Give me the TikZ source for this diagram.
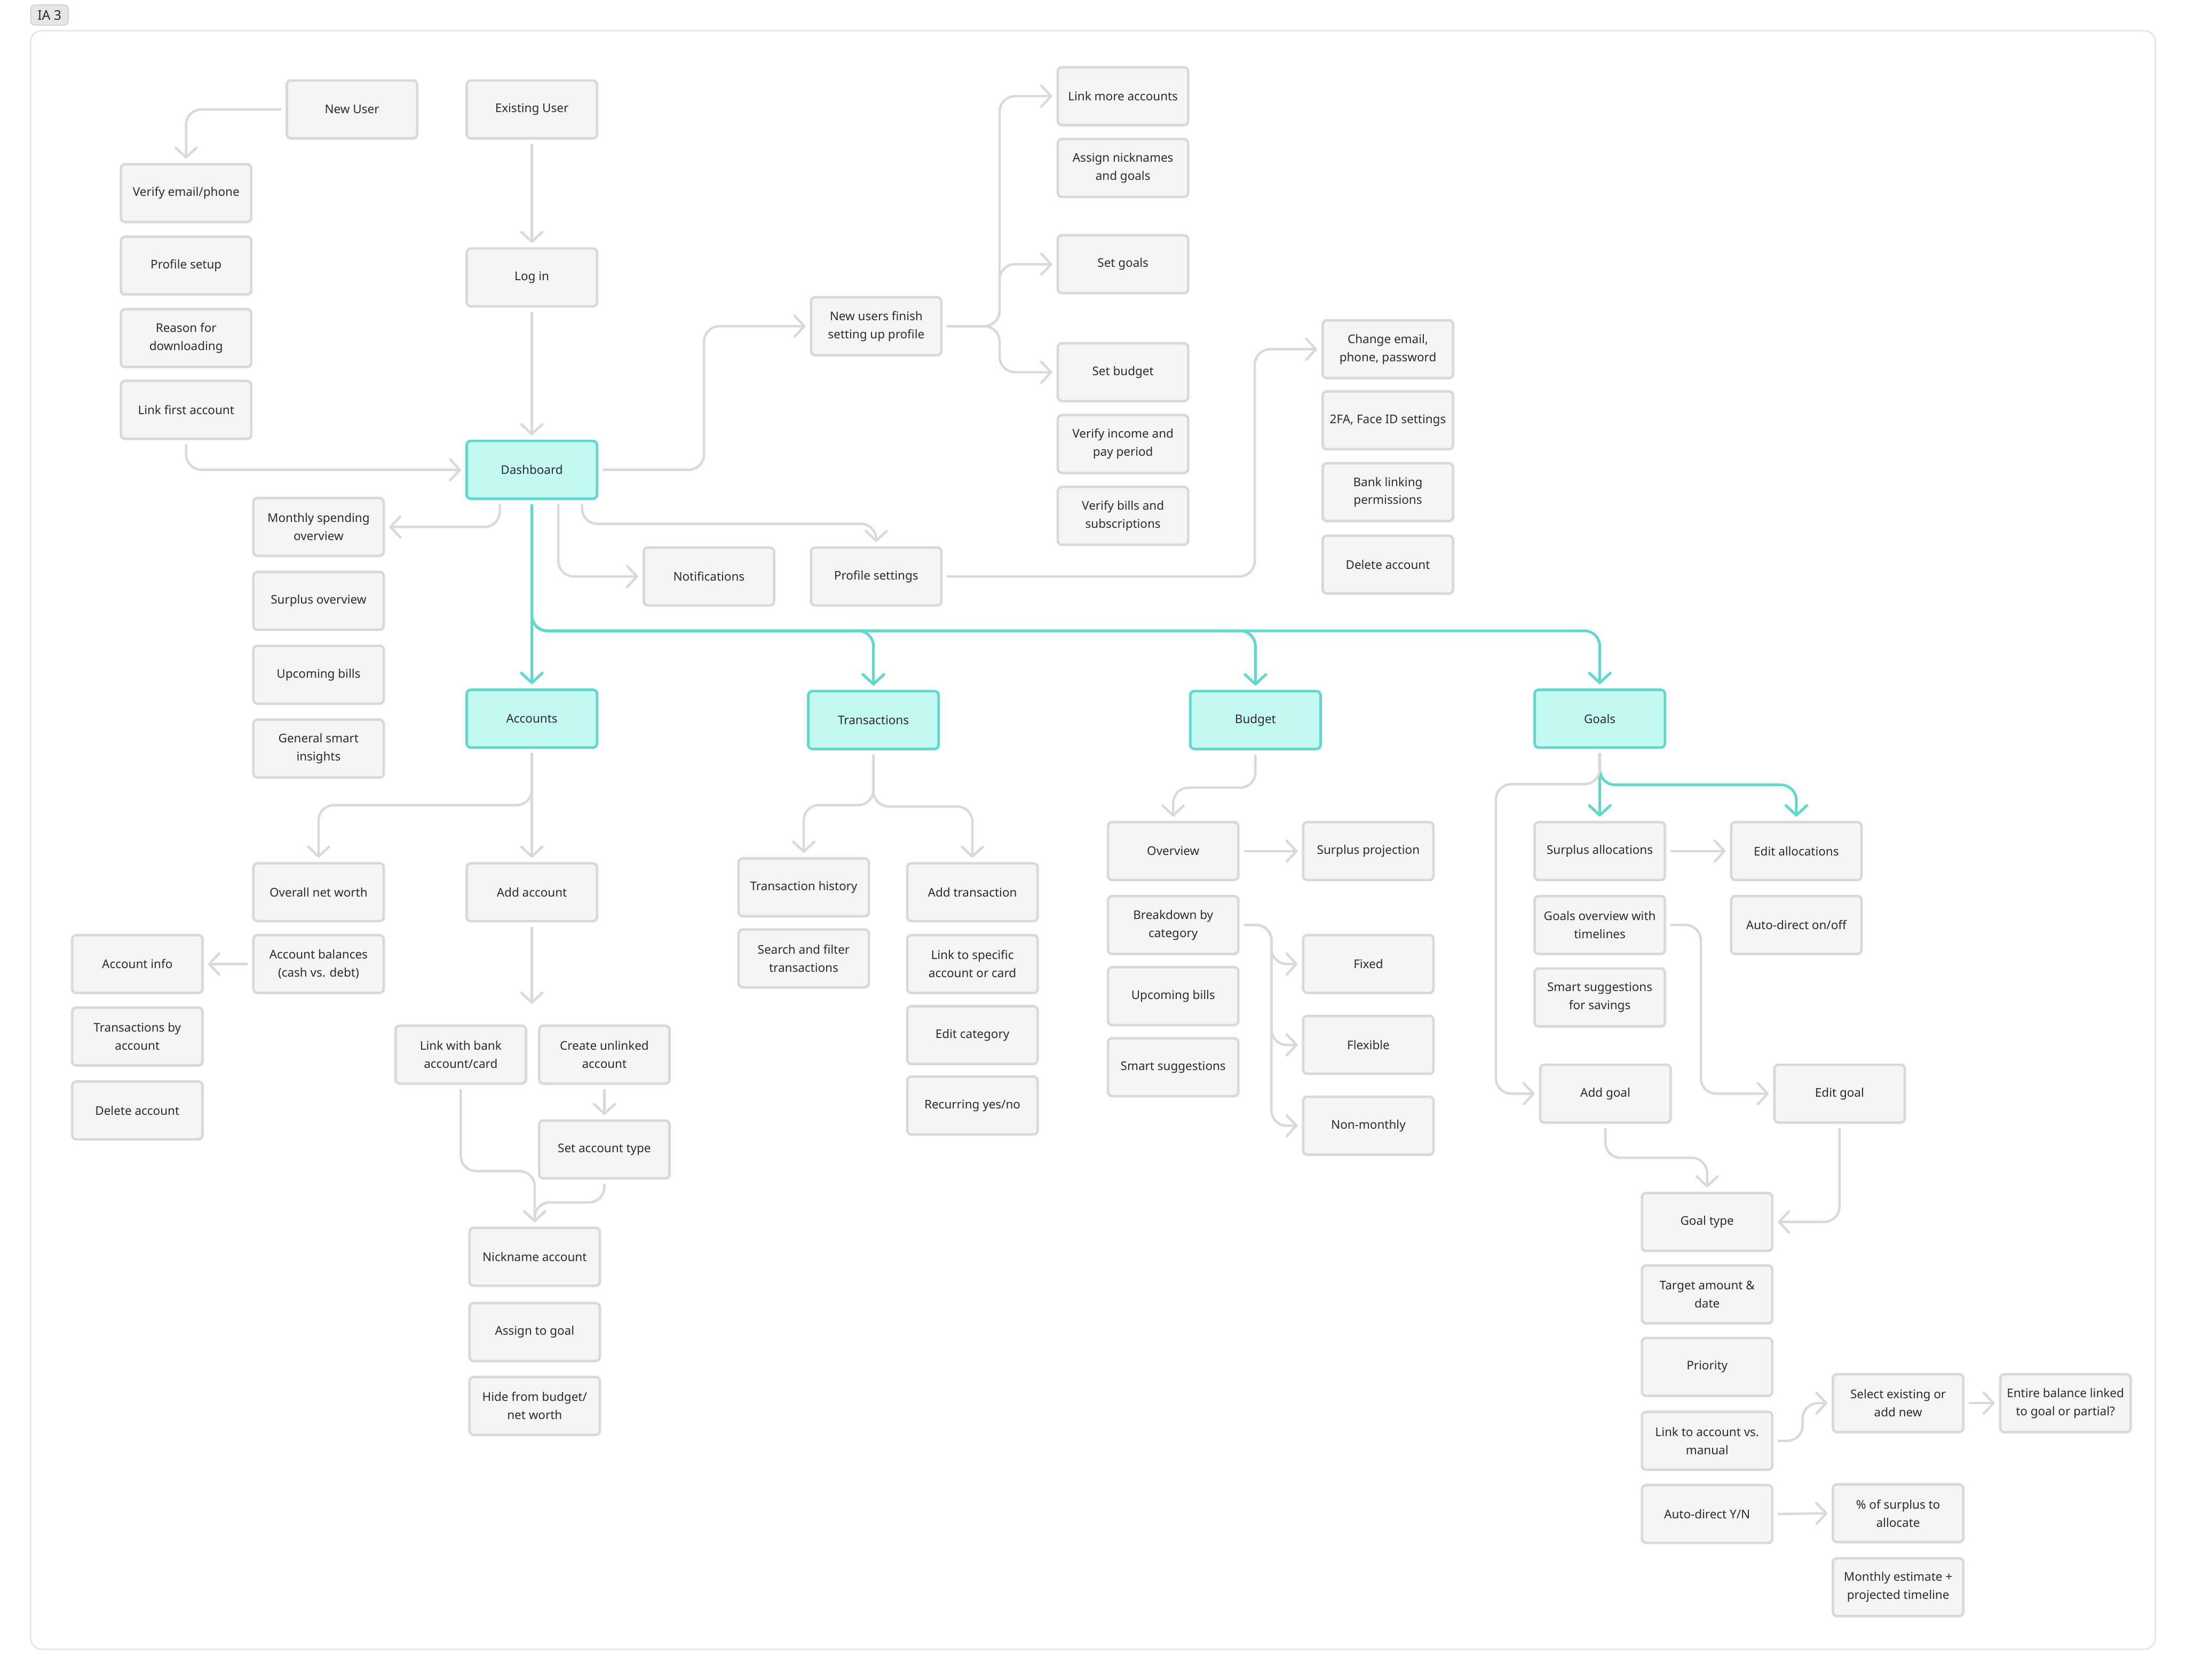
\documentclass[tikz,border=0pt]{standalone}
\usepackage{fontspec}
\setmainfont{Noto Sans}
\usetikzlibrary{arrows.meta,calc}
\definecolor{boxfill}{HTML}{F5F5F5}
\definecolor{boxline}{HTML}{D9D9D9}
\definecolor{tealfill}{HTML}{C4F8F2}
\definecolor{tealline}{HTML}{5ED9CC}
\definecolor{txt}{HTML}{2B2B2B}
\definecolor{conncol}{HTML}{D9D9D9}
\definecolor{framecol}{HTML}{E3E3E3}
\definecolor{tagfill}{HTML}{E6E6E6}
\definecolor{tagline}{HTML}{CFCFCF}
\begin{document}
\begin{tikzpicture}[x=1pt,y=-1pt,
  box/.style={draw=boxline, fill=boxfill, line width=1.8pt, rounded corners=3pt,
     minimum width=93.5pt, minimum height=41.5pt, inner sep=0pt, align=center,
     font=\fontsize{8.6}{13}\selectfont, text=txt, outer sep=4pt},
  tbox/.style={box, draw=tealline, fill=tealfill},
  link/.style={draw=conncol, line width=1.7pt, rounded corners=11pt,
     -{Straight Barb[length=7pt,width=15pt,round]}},
  tlink/.style={link, draw=tealline, line width=1.9pt},
]
\useasboundingbox (0,0) rectangle (1568,1205);
% frame and tag
\draw[draw=framecol, line width=0.9pt, rounded corners=8pt] (22,22) rectangle (1546,1183);
\node[draw=tagline, fill=tagfill, line width=0.6pt, rounded corners=3pt,
      minimum width=27pt, minimum height=14.5pt, inner sep=0pt,
      font=\fontsize{9.5}{11}\selectfont, text=txt] (tag) at (35.5,10.8) {IA 3};

% ---- nodes ----
\node[box] (nu) at (252.5,78.5) {New User};
\node[box] (eu) at (381.5,78.5) {Existing User};
\node[box] (vep) at (133.5,138.5) {Verify email/phone};
\node[box] (pse) at (133.5,190.5) {Profile setup};
\node[box] (rfd) at (133.5,242.5) {Reason for\\downloading};
\node[box] (lfa) at (133.5,294) {Link first account};
\node[box] (login) at (381.5,199) {Log in};
\node[tbox] (dash) at (381.5,337) {Dashboard};
\node[box] (nuf) at (628.5,234) {New users finish\\setting up profile};
\node[box] (lma) at (805.5,69) {Link more accounts};
\node[box] (ang) at (805.5,120.5) {Assign nicknames\\and goals};
\node[box] (sgo) at (805.5,189.5) {Set goals};
\node[box] (sbu) at (805.5,267) {Set budget};
\node[box] (vip) at (805.5,318.5) {Verify income and\\pay period};
\node[box] (vbs) at (805.5,370) {Verify bills and\\subscriptions};
\node[box] (cep) at (995.5,250.5) {Change email,\\phone, password};
\node[box] (tfa) at (995.5,301.5) {2FA, Face ID settings};
\node[box] (blp) at (995.5,353) {Bank linking\\permissions};
\node[box] (dac) at (995.5,405) {Delete account};
\node[box] (msp) at (228.5,378) {Monthly spending\\overview};
\node[box] (sov) at (228.5,431) {Surplus overview};
\node[box] (upb) at (228.5,484) {Upcoming bills};
\node[box] (gsi) at (228.5,537) {General smart\\insights};
\node[box] (notif) at (508.5,413.5) {Notifications};
\node[box] (ps) at (628.5,413.5) {Profile settings};
\node[tbox] (acc) at (381.5,515.5) {Accounts};
\node[tbox] (tr) at (626.5,516.5) {Transactions};
\node[tbox] (bud) at (900.5,516.5) {Budget};
\node[tbox] (goals) at (1147.5,515.5) {Goals};
% accounts
\node[box] (onw) at (228.5,640) {Overall net worth};
\node[box] (abal) at (228.5,691.5) {Account balances\\(cash vs. debt)};
\node[box] (ainfo) at (98.5,691.5) {Account info};
\node[box] (tba) at (98.5,743.5) {Transactions by\\account};
\node[box] (dac2) at (98.5,796.5) {Delete account};
\node[box] (addacc) at (381.5,640) {Add account};
\node[box] (lwb) at (330.5,756.5) {Link with bank\\account/card};
\node[box] (cua) at (433.5,756.5) {Create unlinked\\account};
\node[box] (sat) at (433.5,824.5) {Set account type};
\node[box] (nick) at (383.5,901.5) {Nickname account};
\node[box] (atg) at (383.5,955.5) {Assign to goal};
\node[box] (hfb) at (383.5,1008.5) {Hide from budget/\\net worth};
% transactions
\node[box] (th) at (576.5,636.5) {Transaction history};
\node[box] (sft) at (576.5,687.5) {Search and filter\\transactions};
\node[box] (at) at (697.5,640) {Add transaction};
\node[box] (lsa) at (697.5,691.5) {Link to specific\\account or card};
\node[box] (ec) at (697.5,742.5) {Edit category};
\node[box] (ryn) at (697.5,793) {Recurring yes/no};
% budget
\node[box] (ov) at (841.5,610.5) {Overview};
\node[box] (sp) at (981.5,610.5) {Surplus projection};
\node[box] (bbc) at (841.5,663.5) {Breakdown by\\category};
\node[box] (upb2) at (841.5,714.5) {Upcoming bills};
\node[box] (ss) at (841.5,765.5) {Smart suggestions};
\node[box] (fixed) at (981.5,691.5) {Fixed};
\node[box] (flex) at (981.5,749.5) {Flexible};
\node[box] (nonm) at (981.5,807.5) {Non-monthly};
% goals
\node[box] (sal) at (1147.5,610.5) {Surplus allocations};
\node[box] (eal) at (1288.5,610.5) {Edit allocations};
\node[box] (gov) at (1147.5,663.5) {Goals overview with\\timelines};
\node[box] (adoo) at (1288.5,663.5) {Auto-direct on/off};
\node[box] (sss) at (1147.5,715.5) {Smart suggestions\\for savings};
\node[box] (addg) at (1151.5,784.5) {Add goal};
\node[box] (editg) at (1319.5,784.5) {Edit goal};
\node[box] (gt) at (1224.5,876.5) {Goal type};
\node[box] (tad) at (1224.5,928.5) {Target amount \&\\date};
\node[box] (pri) at (1224.5,980.5) {Priority};
\node[box] (lta) at (1224.5,1033.5) {Link to account vs.\\manual};
\node[box] (adyn) at (1224.5,1086) {Auto-direct Y/N};
\node[box] (sea) at (1361.5,1006.5) {Select existing or\\add new};
\node[box] (ebl) at (1481.5,1006.5) {Entire balance linked\\to goal or partial?};
\node[box] (pct) at (1361.5,1085.5) {\% of surplus to\\allocate};
\node[box] (mep) at (1361.5,1138.5) {Monthly estimate +\\projected timeline};

% ---- connectors ----
\draw[link] (nu.west) -| (vep.north);
\draw[link] (eu.south) -- (login.north);
\draw[link] (login.south) -- (dash.north);
\draw[link] (lfa.south) |- (dash.west);
\draw[link] (dash.east) -- (505,337) |- (nuf.west);
\coordinate (fan) at (717,234);
\draw[link] (nuf.east) -- (fan) |- (lma.west);
\draw[link] (nuf.east) -- (fan) |- (sgo.west);
\draw[link] (nuf.east) -- (fan) |- (sbu.west);
\draw[link] (ps.east) -- (900,413.5) |- (cep.west);
\draw[link] ($(dash.south)+(-23,0)$) |- (msp.east);
\draw[link] ($(dash.south)+(19,0)$) |- (notif.west);
\draw[link] ($(dash.south)+(36,0)$) -- ++(0,14) -| (ps.north);
% teal main branches
\draw[tlink] (dash.south) -- (acc.north);
\draw[tlink] (dash.south) -- (381.5,452.5) -| (tr.north);
\draw[tlink] (dash.south) -- (381.5,452.5) -| (bud.north);
\draw[tlink] (dash.south) -- (381.5,452.5) -| (goals.north);
% accounts
\draw[link] (acc.south) -- (381.5,577.5) -| (onw.north);
\draw[link] (acc.south) -- (addacc.north);
\draw[link] (abal.west) -- (ainfo.east);
\coordinate (addend) at (381.5,720);
\draw[link] (addacc.south) -- (addend);
\draw[link] (cua.south) -- (sat.north);
\draw[link] (lwb.south) -- (330.5,840) -| (nick.north);
\draw[link] (sat.south) -- (433.5,862.5) -| (nick.north);
% transactions
\draw[link] (tr.south) -- (626.5,577.5) -| (th.north);
\draw[link] (tr.south) -- (626.5,578.5) -| (at.north);
% budget
\draw[link] (bud.south) -- (900.5,565) -| (ov.north);
\draw[link] (ov.east) -- (sp.west);
\draw[link] (bbc.east) -- (912,663.5) |- (fixed.west);
\draw[link] (bbc.east) -- (912,663.5) |- (flex.west);
\draw[link] (bbc.east) -- (912,663.5) |- (nonm.west);
% goals
\draw[tlink] (goals.south) -- (sal.north);
\draw[tlink] (goals.south) -- (1147.5,563) -| (eal.north);
\draw[link] (goals.south) -- (1147.5,562.5) -- (1073,562.5) |- (addg.west);
\draw[link] (sal.east) -- (eal.west);
\draw[link] (gov.east) -- (1220,663.5) |- (editg.west);
\draw[link] (addg.south) -- (1151.5,830.5) -| (gt.north);
\draw[link] (editg.south) |- (gt.east);
\draw[link] (lta.east) -- (1293,1033.5) |- (sea.west);
\draw[link] (sea.east) -- (ebl.west);
\draw[link] (adyn.east) -- (pct.west);
\end{tikzpicture}
\end{document}
